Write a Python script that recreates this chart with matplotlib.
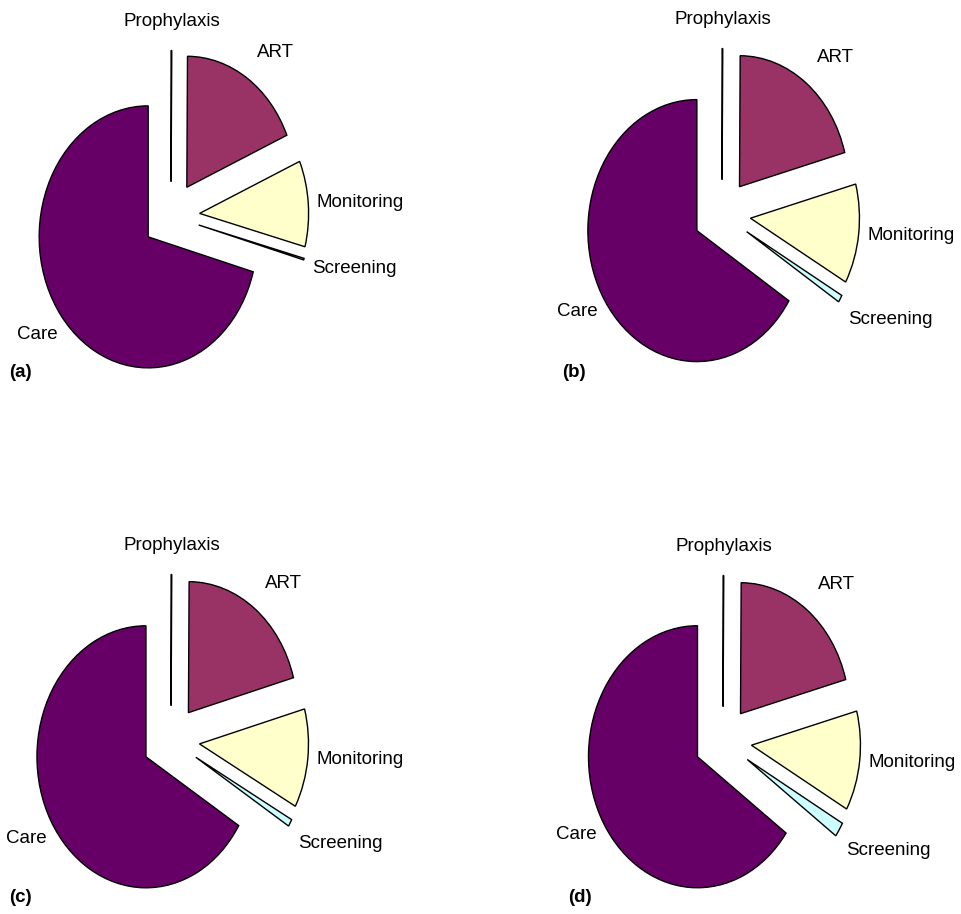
import matplotlib.pyplot as plt
import numpy as np

# shares (%), clockwise from 12 o'clock
categories = ['Prophylaxis', 'ART', 'Monitoring', 'Screening', 'Care']
share_a = [0.1, 18.4, 10.6, 0.2, 70.7]
share_b = [0.1, 20.7, 12.3, 0.9, 66.0]
share_c = [0.1, 20.6, 12.2, 0.9, 66.2]
share_d = [0.1, 20.7, 12.3, 1.8, 65.1]
panel_names = ['(a)', '(b)', '(c)', '(d)']

colors = ['#9999FF', '#993366', '#FFFFCC', '#CCFFFF', '#660066']

plt.rcParams['font.family'] = ['Liberation Sans', 'DejaVu Sans']

W, H = 961, 914
RX, RY = 109, 131          # pixels per pie radius (pies are stretched vertically)
EXPLODE = 0.263

fig = plt.figure(figsize=(W / 100, H / 100), dpi=100)


def draw_pie(values, cx, cy):
    # axes placed so the pie centre lands at pixel (cx, cy)
    x0, x1, y0, y1 = -1.6, 2.6, -1.65, 1.65
    ax = fig.add_axes([(cx + x0 * RX) / W, (H - (cy + y1 * RY)) / H,
                       (x1 - x0) * RX / W, (y1 - y0) * RY / H])
    wedges, _ = ax.pie(values, colors=colors, startangle=90, counterclock=False,
                       explode=[EXPLODE] * len(values),
                       wedgeprops=dict(edgecolor='black', linewidth=1.0))
    ax.set_aspect('auto')
    ax.set_xlim(x0, x1)
    ax.set_ylim(y0, y1)
    ax.patch.set_visible(False)

    for w, name in zip(wedges, categories):
        mid = np.deg2rad((w.theta1 + w.theta2) / 2)
        c, s = np.cos(mid), np.sin(mid)
        ha = 'left' if c > 0.1 else ('right' if c < -0.1 else 'center')
        va = 'bottom' if s > 0.3 else ('top' if s < -0.3 else 'center')
        d = 1.16 if va == 'bottom' else (1.04 if ha == 'right' else 1.08)
        dy = -0.05 if s < -0.2 else 0.0
        ax.text(w.center[0] + d * c, w.center[1] + d * s + dy, name,
                ha=ha, va=va, fontsize=13.5)
    return ax


draw_pie(share_a, 171, 216)
draw_pie(share_b, 722, 214)
draw_pie(share_c, 171, 740)
draw_pie(share_d, 723, 741)

label_pos = [(9, 372), (562, 372), (9, 898), (568, 898)]
for name, (lx, ly) in zip(panel_names, label_pos):
    fig.text(lx / W, 1 - ly / H, name, fontsize=13.5, fontweight='bold',
             ha='left', va='center')

plt.savefig('out.png', dpi=100)
